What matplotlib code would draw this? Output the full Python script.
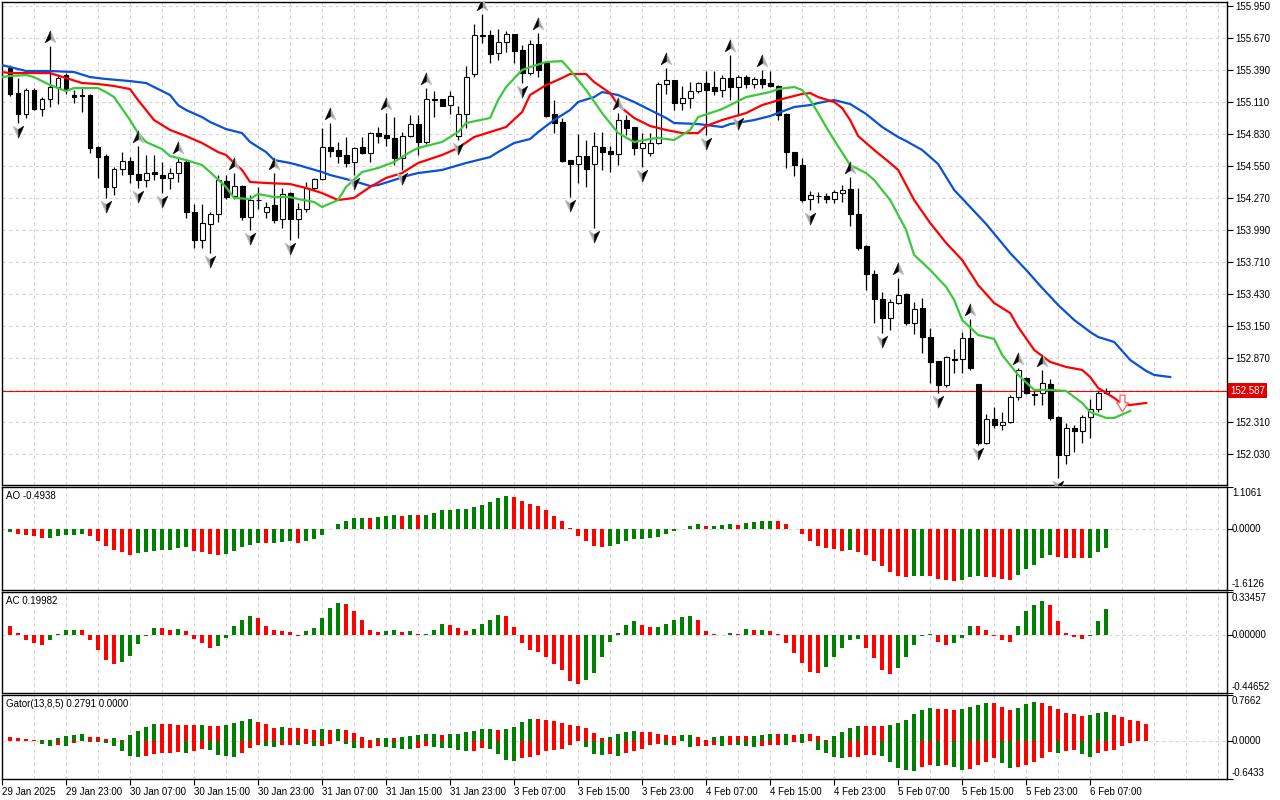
import numpy as np
import matplotlib
matplotlib.use("Agg")
import matplotlib.pyplot as plt
from matplotlib.path import Path
from matplotlib.transforms import offset_copy, blended_transform_factory

plt.rcParams['font.family'] = ['Liberation Sans', 'DejaVu Sans']
plt.rcParams['font.size'] = 7

GREEN = '#008000'
RED = '#ff0000'
GRID = '#d4d4d4'

# ---- H1 candles, 29 Jan 16:00 .. 6 Feb 09:00 ----
opens = [155.410, 155.191, 155.008, 155.218, 155.051, 155.139, 155.244, 155.349, 155.174, 155.174,
         155.174, 154.719, 154.640, 154.369, 154.526, 154.596, 154.483, 154.430, 154.500, 154.474,
         154.448, 154.491, 154.588, 154.150, 153.905, 154.045, 154.133, 154.421, 154.290, 154.378,
         154.106, 154.255, 154.150, 154.211, 154.089, 154.316, 154.089, 154.176, 154.360, 154.439,
         154.719, 154.693, 154.649, 154.588, 154.719, 154.666, 154.841, 154.824, 154.798, 154.623,
         154.815, 154.920, 154.763, 155.139, 155.135, 155.086, 154.815, 155.008, 155.358, 155.699,
         155.699, 155.541, 155.638, 155.708, 155.568, 155.366, 155.620, 155.454, 155.008, 154.938,
         154.605, 154.570, 154.640, 154.570, 154.719, 154.684, 154.658, 154.955, 154.894, 154.710,
         154.666, 154.754, 155.270, 155.305, 155.104, 155.148, 155.209, 155.279, 155.244, 155.218,
         155.323, 155.244, 155.331, 155.270, 155.314, 155.279, 155.253, 155.008, 154.675, 154.561,
         154.264, 154.290, 154.290, 154.264, 154.316, 154.351, 154.133, 153.853, 153.608, 153.389,
         153.223, 153.354, 153.433, 153.179, 153.310, 153.056, 152.846, 152.636, 152.864, 152.864,
         153.048, 152.645, 152.129, 152.339, 152.286, 152.313, 152.531, 152.698, 152.558, 152.566,
         152.645, 152.356, 152.024, 152.260, 152.234, 152.356, 152.426, 152.566]
highs = [155.436, 155.323, 155.235, 155.235, 155.156, 155.603, 155.349, 155.366, 155.218, 155.235,
         155.183, 154.728, 154.658, 154.544, 154.675, 154.631, 154.728, 154.649, 154.649, 154.588,
         154.535, 154.631, 154.605, 154.220, 154.220, 154.150, 154.474, 154.474, 154.490, 154.386,
         154.299, 154.369, 154.238, 154.491, 154.360, 154.325, 154.229, 154.413, 154.448, 154.885,
         154.929, 154.763, 154.806, 154.719, 154.806, 154.850, 154.894, 155.016, 154.981, 154.850,
         154.999, 154.999, 155.235, 155.209, 155.139, 155.209, 155.078, 155.428, 155.795, 155.883,
         155.743, 155.751, 155.734, 155.712, 155.611, 155.655, 155.716, 155.463, 155.130, 154.973,
         154.609, 154.833, 154.780, 154.850, 154.850, 154.728, 155.016, 154.999, 154.898, 154.841,
         154.841, 155.288, 155.410, 155.309, 155.253, 155.288, 155.288, 155.384, 155.384, 155.349,
         155.524, 155.349, 155.349, 155.331, 155.393, 155.384, 155.261, 155.016, 154.679, 154.623,
         154.334, 154.325, 154.316, 154.343, 154.386, 154.456, 154.360, 153.857, 153.643, 153.450,
         153.389, 153.573, 153.441, 153.363, 153.398, 153.135, 152.850, 152.890, 152.951, 153.100,
         153.214, 152.649, 152.383, 152.444, 152.400, 152.549, 152.785, 152.706, 152.584, 152.768,
         152.689, 152.365, 152.304, 152.286, 152.374, 152.514, 152.584, 152.610]
lows = [155.165, 154.929, 154.973, 155.043, 154.990, 155.069, 155.095, 155.183, 155.104, 155.025,
        154.666, 154.448, 154.273, 154.299, 154.474, 154.404, 154.360, 154.370, 154.430, 154.316,
        154.351, 154.413, 154.098, 153.835, 153.835, 153.791, 154.063, 154.264, 154.264, 154.080,
        153.993, 154.176, 154.098, 154.054, 154.010, 153.905, 153.923, 154.150, 154.343, 154.430,
        154.631, 154.579, 154.544, 154.474, 154.660, 154.588, 154.754, 154.728, 154.561, 154.518,
        154.806, 154.649, 154.745, 154.981, 155.078, 155.008, 154.780, 154.885, 155.331, 155.629,
        155.454, 155.480, 155.550, 155.454, 155.279, 155.349, 155.331, 154.981, 154.841, 154.588,
        154.281, 154.404, 154.369, 154.010, 154.518, 154.500, 154.561, 154.824, 154.649, 154.544,
        154.640, 154.745, 155.183, 155.043, 155.043, 155.060, 155.191, 154.824, 155.174, 155.156,
        155.130, 154.999, 155.235, 155.235, 155.235, 155.244, 154.955, 154.535, 154.465, 154.238,
        154.168, 154.229, 154.229, 154.229, 154.238, 154.028, 153.818, 153.468, 153.179, 153.091,
        153.118, 153.349, 153.161, 153.083, 152.916, 152.654, 152.566, 152.619, 152.741, 152.741,
        152.768, 152.111, 152.120, 152.260, 152.243, 152.304, 152.505, 152.560, 152.461, 152.461,
        152.330, 151.823, 151.945, 152.050, 152.129, 152.173, 152.400, 152.561]
closes = [155.183, 155.008, 155.218, 155.051, 155.139, 155.244, 155.323, 155.218, 155.156, 155.169,
          154.710, 154.631, 154.369, 154.526, 154.596, 154.483, 154.430, 154.491, 154.483, 154.448,
          154.491, 154.588, 154.150, 153.905, 154.054, 154.133, 154.430, 154.281, 154.378, 154.106,
          154.255, 154.251, 154.194, 154.080, 154.308, 154.089, 154.176, 154.360, 154.439, 154.719,
          154.684, 154.640, 154.579, 154.714, 154.664, 154.841, 154.815, 154.798, 154.623, 154.815,
          154.920, 154.763, 155.139, 155.134, 155.082, 155.165, 155.008, 155.331, 155.699, 155.694,
          155.533, 155.638, 155.708, 155.559, 155.366, 155.620, 155.393, 154.990, 154.929, 154.596,
          154.570, 154.640, 154.526, 154.728, 154.675, 154.658, 154.955, 154.885, 154.710, 154.754,
          154.754, 155.270, 155.305, 155.104, 155.148, 155.209, 155.279, 155.218, 155.209, 155.323,
          155.244, 155.331, 155.270, 155.314, 155.270, 155.253, 154.999, 154.675, 154.561, 154.255,
          154.299, 154.286, 154.264, 154.325, 154.343, 154.133, 153.835, 153.608, 153.389, 153.223,
          153.363, 153.424, 153.179, 153.301, 153.056, 152.838, 152.636, 152.881, 152.859, 153.048,
          152.785, 152.129, 152.339, 152.286, 152.313, 152.531, 152.768, 152.563, 152.553, 152.654,
          152.348, 152.024, 152.260, 152.234, 152.356, 152.426, 152.566, 152.587]

fractal_up = [5, 16, 21, 28, 33, 40, 47, 52, 59, 66, 76, 82, 90, 94, 105, 111, 120, 126, 129]
fractal_down = [1, 12, 16, 19, 25, 30, 35, 43, 49, 56, 64, 70, 73, 79, 87, 91, 100, 109, 116, 121, 131]

# ---- Alligator (jaw / teeth / lips, already shifted) ----
jaw_idx = [-1, 0, 2, 5, 8, 10, 12, 15, 17, 18, 20, 21, 22, 24, 25, 27, 29, 30, 32, 33,
           35, 36, 39, 40, 43, 45, 46, 48, 50, 51, 54, 57, 60, 61, 63, 65, 66, 68, 70, 71,
           73, 74, 76, 78, 80, 82, 83, 86, 89, 90, 93, 95, 98, 100, 101, 103, 105, 107, 109, 111,
           112, 114, 116, 118, 120, 122, 125, 127, 129, 131, 133, 135, 136, 138, 140, 142, 143, 145]
jaw_val = [155.436, 155.419, 155.384, 155.384, 155.375, 155.331, 155.314, 155.296, 155.279, 155.244,
           155.174, 155.086, 155.043, 154.981, 154.938, 154.876, 154.841, 154.763, 154.675, 154.605,
           154.579, 154.561, 154.500, 154.474, 154.421, 154.378, 154.386, 154.430, 154.474, 154.491,
           154.518, 154.579, 154.631, 154.675, 154.754, 154.789, 154.850, 154.955, 155.043, 155.113,
           155.156, 155.200, 155.174, 155.113, 155.043, 154.973, 154.929, 154.920, 154.894, 154.920,
           154.955, 154.990, 155.069, 155.086, 155.104, 155.130, 155.095, 155.008, 154.894, 154.806,
           154.771, 154.693, 154.570, 154.343, 154.194, 154.045, 153.791, 153.643, 153.485, 153.336,
           153.205, 153.100, 153.056, 153.013, 152.855, 152.759, 152.724, 152.706]
teeth_idx = [-1, 0, 3, 5, 7, 9, 11, 13, 15, 16, 17, 18, 20, 22, 24, 26, 27, 28, 29, 30,
             32, 35, 37, 39, 41, 43, 45, 47, 49, 51, 54, 56, 58, 60, 62, 64, 65, 67, 69, 70,
             72, 73, 75, 76, 78, 80, 82, 84, 86, 87, 89, 92, 94, 97, 99, 100, 101, 103, 104, 105,
             106, 108, 110, 111, 113, 115, 117, 119, 121, 123, 125, 126, 128, 130, 132, 134, 135, 136, 138, 139,
             140, 142]
teeth_val = [155.375, 155.366, 155.366, 155.366, 155.323, 155.279, 155.270, 155.253, 155.226, 155.130,
             155.043, 154.955, 154.868, 154.815, 154.754, 154.675, 154.649, 154.579, 154.518, 154.413,
             154.404, 154.395, 154.360, 154.316, 154.255, 154.273, 154.369, 154.448, 154.491, 154.579,
             154.649, 154.710, 154.806, 154.850, 154.894, 155.025, 155.174, 155.261, 155.323, 155.358,
             155.358, 155.288, 155.191, 155.086, 154.973, 154.903, 154.868, 154.841, 154.841, 154.903,
             154.955, 155.016, 155.086, 155.148, 155.183, 155.191, 155.156, 155.113, 155.060, 154.955,
             154.815, 154.693, 154.579, 154.518, 154.255, 154.054, 153.879, 153.730, 153.511, 153.354,
             153.266, 153.144, 152.943, 152.838, 152.794, 152.768, 152.706, 152.610, 152.523, 152.470,
             152.461, 152.479]
lips_idx = [-1, 0, 2, 3, 5, 7, 8, 11, 12, 13, 15, 16, 17, 19, 20, 22, 24, 25, 27, 28,
            30, 31, 33, 35, 36, 38, 39, 41, 42, 44, 46, 48, 50, 51, 54, 56, 57, 60, 61, 62,
            64, 65, 67, 69, 70, 71, 72, 74, 76, 78, 80, 81, 83, 85, 86, 89, 90, 92, 95, 96,
            98, 99, 100, 101, 102, 103, 105, 107, 108, 110, 112, 113, 115, 117, 118, 119, 121, 123, 124, 126,
            128, 130, 132, 134, 135, 137, 138, 140]
lips_val = [155.331, 155.340, 155.349, 155.331, 155.261, 155.209, 155.235, 155.235, 155.200, 155.156,
            154.955, 154.841, 154.763, 154.701, 154.640, 154.605, 154.561, 154.500, 154.369, 154.273,
            154.264, 154.308, 154.281, 154.281, 154.264, 154.238, 154.194, 154.255, 154.369, 154.500,
            154.535, 154.588, 154.675, 154.710, 154.763, 154.850, 154.929, 154.973, 155.130, 155.244,
            155.393, 155.419, 155.463, 155.471, 155.393, 155.305, 155.218, 155.016, 154.841, 154.763,
            154.789, 154.798, 154.780, 154.868, 154.981, 155.051, 155.086, 155.156, 155.200, 155.226,
            155.244, 155.218, 155.130, 155.016, 154.894, 154.780, 154.561, 154.491, 154.430, 154.255,
            153.993, 153.774, 153.643, 153.494, 153.380, 153.205, 153.074, 153.039, 152.899, 152.724,
            152.593, 152.593, 152.584, 152.479, 152.400, 152.348, 152.348, 152.409]

current_price = 152.587
signal_bar = 139
signal_price = 152.48

# ---- Awesome Oscillator ----
ao = [-0.07, -0.13, -0.16, -0.20, -0.235, -0.228, -0.20, -0.16, -0.155, -0.13,
      -0.20, -0.31, -0.44, -0.55, -0.62, -0.68, -0.64, -0.62, -0.57, -0.55,
      -0.545, -0.51, -0.49, -0.57, -0.60, -0.675, -0.68, -0.65, -0.57, -0.49,
      -0.42, -0.36, -0.365, -0.36, -0.335, -0.33, -0.36, -0.31, -0.26, -0.16,
      0.01, 0.12, 0.21, 0.285, 0.29, 0.285, 0.32, 0.34, 0.37, 0.345,
      0.37, 0.365, 0.375, 0.42, 0.50, 0.505, 0.53, 0.535, 0.58, 0.63,
      0.71, 0.82, 0.87, 0.84, 0.74, 0.66, 0.61, 0.50, 0.34, 0.21,
      0.02, -0.20, -0.33, -0.44, -0.47, -0.44, -0.39, -0.33, -0.265, -0.26,
      -0.24, -0.21, -0.13, -0.05, 0.01, 0.08, 0.13, 0.08, 0.085, 0.11,
      0.13, 0.11, 0.16, 0.18, 0.21, 0.215, 0.21, 0.13, -0.01, -0.13,
      -0.31, -0.44, -0.51, -0.54, -0.57, -0.565, -0.60, -0.70, -0.84, -0.99,
      -1.15, -1.23, -1.26, -1.255, -1.24, -1.245, -1.31, -1.36, -1.365, -1.34,
      -1.26, -1.255, -1.26, -1.265, -1.31, -1.34, -1.21, -1.05, -0.94, -0.78,
      -0.70, -0.73, -0.757, -0.76, -0.78, -0.757, -0.62, -0.4938]

# ---- Accelerator Oscillator ----
ac = [0.069, 0.015, -0.033, -0.057, -0.075, -0.036, 0.008, 0.039, 0.040, 0.038,
      -0.036, -0.113, -0.190, -0.221, -0.206, -0.159, -0.067, -0.008, 0.054, 0.053,
      0.039, 0.046, 0.031, -0.028, -0.059, -0.098, -0.082, -0.021, 0.069, 0.116,
      0.146, 0.131, 0.069, 0.039, 0.031, 0.023, -0.005, 0.031, 0.054, 0.131,
      0.208, 0.247, 0.239, 0.185, 0.116, 0.039, 0.023, 0.031, 0.039, 0.023,
      0.031, 0.008, 0.009, 0.039, 0.085, 0.077, 0.054, 0.031, 0.046, 0.085,
      0.116, 0.154, 0.146, 0.062, -0.062, -0.116, -0.131, -0.170, -0.224, -0.270,
      -0.355, -0.378, -0.347, -0.293, -0.170, -0.054, 0.015, 0.077, 0.108, 0.077,
      0.062, 0.063, 0.085, 0.116, 0.139, 0.146, 0.116, 0.031, 0.008, 0.005,
      0.015, 0.013, 0.046, 0.039, 0.040, 0.031, 0.008, -0.059, -0.136, -0.213,
      -0.285, -0.290, -0.244, -0.167, -0.098, -0.033, -0.028, -0.098, -0.175, -0.267,
      -0.298, -0.252, -0.167, -0.075, -0.003, 0.008, -0.051, -0.075, -0.059, -0.021,
      0.069, 0.068, 0.039, -0.005, -0.036, -0.051, 0.069, 0.185, 0.231, 0.262,
      0.231, 0.108, 0.015, -0.010, -0.028, -0.003, 0.108, 0.19982]

# ---- Gator oscillator (upper = |jaw-teeth|, lower = |teeth-lips|) ----
gator_up = [0.067, 0.050, 0.034, 0.006, 0.008, 0.017, 0.050, 0.084, 0.101, 0.104,
            0.067, 0.064, 0.034, 0.050, 0.011, 0.101, 0.168, 0.235, 0.286, 0.283,
            0.280, 0.269, 0.266, 0.263, 0.266, 0.252, 0.249, 0.269, 0.302, 0.336,
            0.370, 0.319, 0.286, 0.218, 0.221, 0.218, 0.216, 0.202, 0.185, 0.202,
            0.185, 0.202, 0.185, 0.134, 0.067, 0.017, 0.050, 0.053, 0.050, 0.067,
            0.070, 0.101, 0.118, 0.120, 0.101, 0.118, 0.120, 0.151, 0.168, 0.202,
            0.204, 0.185, 0.188, 0.235, 0.319, 0.370, 0.367, 0.353, 0.336, 0.302,
            0.269, 0.252, 0.218, 0.134, 0.050, 0.067, 0.118, 0.151, 0.168, 0.151,
            0.148, 0.118, 0.101, 0.084, 0.087, 0.101, 0.067, 0.017, 0.067, 0.084,
            0.081, 0.078, 0.076, 0.084, 0.101, 0.118, 0.115, 0.118, 0.101, 0.118,
            0.115, 0.084, 0.017, 0.084, 0.151, 0.218, 0.252, 0.246, 0.244, 0.241,
            0.269, 0.302, 0.353, 0.454, 0.521, 0.554, 0.538, 0.535, 0.521, 0.538,
            0.571, 0.605, 0.638, 0.627, 0.571, 0.521, 0.554, 0.622, 0.655, 0.638,
            0.588, 0.538, 0.470, 0.454, 0.420, 0.437, 0.470, 0.473, 0.437, 0.403,
            0.353, 0.336, 0.2791]
gator_down = [0.011, 0.006, 0.003, 0.006, 0.062, 0.095, 0.078, 0.095, 0.045, 0.011,
              0.022, 0.028, 0.045, 0.095, 0.179, 0.263, 0.280, 0.263, 0.230, 0.213,
              0.210, 0.196, 0.213, 0.179, 0.146, 0.162, 0.246, 0.263, 0.280, 0.213,
              0.129, 0.078, 0.095, 0.112, 0.078, 0.076, 0.078, 0.062, 0.095, 0.092,
              0.062, 0.011, 0.062, 0.129, 0.126, 0.123, 0.095, 0.112, 0.129, 0.132,
              0.146, 0.129, 0.095, 0.112, 0.115, 0.129, 0.162, 0.179, 0.176, 0.129,
              0.132, 0.230, 0.330, 0.333, 0.297, 0.280, 0.246, 0.179, 0.162, 0.146,
              0.078, 0.011, 0.112, 0.230, 0.246, 0.230, 0.263, 0.213, 0.179, 0.146,
              0.078, 0.062, 0.078, 0.076, 0.011, 0.112, 0.095, 0.092, 0.078, 0.095,
              0.078, 0.081, 0.095, 0.112, 0.095, 0.078, 0.076, 0.078, 0.028, 0.045,
              0.011, 0.162, 0.213, 0.280, 0.297, 0.280, 0.277, 0.246, 0.244, 0.263,
              0.364, 0.465, 0.498, 0.515, 0.448, 0.414, 0.420, 0.414, 0.448, 0.498,
              0.482, 0.414, 0.364, 0.297, 0.381, 0.465, 0.448, 0.414, 0.364, 0.297,
              0.196, 0.202, 0.179, 0.162, 0.230, 0.280, 0.213, 0.179, 0.162, 0.090,
              0.045, 0.011, 0.0]

# the 152.590 level is covered by the current-price box, so it carries no label
price_ticks = [155.950, 155.670, 155.390, 155.110, 154.830, 154.550, 154.270, 153.990,
               153.710, 153.430, 153.150, 152.870, 152.590, 152.310, 152.030]
price_tick_labels = ['155.950', '155.670', '155.390', '155.110', '154.830', '154.550', '154.270',
                     '153.990', '153.710', '153.430', '153.150', '152.870', '', '152.310', '152.030']
time_idx = [-1, 7, 15, 23, 31, 39, 47, 55, 63, 71, 79, 87, 95, 103, 111, 119, 127, 135]
time_labels = ['29 Jan 2025', '29 Jan 23:00', '30 Jan 07:00', '30 Jan 15:00', '30 Jan 23:00',
               '31 Jan 07:00', '31 Jan 15:00', '31 Jan 23:00', '3 Feb 07:00', '3 Feb 15:00',
               '3 Feb 23:00', '4 Feb 07:00', '4 Feb 15:00', '4 Feb 23:00', '5 Feb 07:00',
               '5 Feb 15:00', '5 Feb 23:00', '6 Feb 07:00']


def trend_colors(vals, first):
    v = np.asarray(vals, dtype=float)
    return [first] + [GREEN if b > a else RED for a, b in zip(v[:-1], v[1:])]


fig = plt.figure(figsize=(12.8, 8), dpi=100)
W, H = 1280.0, 800.0


def box(left, top, right, bottom):
    return [left / W, 1 - bottom / H, (right - left) / W, (bottom - top) / H]


ax = fig.add_axes(box(2, 2, 1227, 485))
ax_ao = fig.add_axes(box(2, 487, 1227, 590), sharex=ax)
ax_ac = fig.add_axes(box(2, 592, 1227, 693), sharex=ax)
ax_gt = fig.add_axes(box(2, 695, 1227, 779), sharex=ax)

for a in (ax, ax_ao, ax_ac, ax_gt):
    for g in range(3, 153, 4):
        a.axvline(g, color=GRID, lw=0.8, ls=(0, (3, 3)), zorder=0)
    for s in a.spines.values():
        s.set_linewidth(1.0)
        s.set_color('black')
    a.tick_params(axis='x', bottom=False, labelbottom=False)

ax.set_xlim(-1, 152.1)

# ---- main price panel ----
x = np.arange(len(opens))
o = np.array(opens)
c = np.array(closes)
h = np.array(highs)
l = np.array(lows)
bull = c > o

ax.axhline(current_price, color=RED, lw=0.8, zorder=2)
ax.vlines(x, l, h, color='black', lw=0.9, zorder=3)
ax.bar(x, np.abs(c - o), bottom=np.minimum(o, c), width=0.62,
       color=np.where(bull, 'white', 'black'), edgecolor='black', linewidth=0.8, zorder=4)

ax.plot(jaw_idx, jaw_val, color='#0a50d8', lw=1.6, zorder=5)
ax.plot(teeth_idx, teeth_val, color='#ff0000', lw=1.6, zorder=5)
ax.plot(lips_idx, lips_val, color='#3cc83c', lw=1.6, zorder=5)

# Bill Williams fractal glyphs: grey arrowhead with a black half
up_full = Path([(0, 1), (0.8, -0.8), (0, -0.3), (-0.8, -0.8), (0, 1)],
               [Path.MOVETO, Path.LINETO, Path.LINETO, Path.LINETO, Path.CLOSEPOLY])
up_half = Path([(0, 1), (0, -0.3), (-0.8, -0.8), (0, 1)],
               [Path.MOVETO, Path.LINETO, Path.LINETO, Path.CLOSEPOLY])
dn_full = Path([(0, -1), (0.8, 0.8), (0, 0.3), (-0.8, 0.8), (0, -1)],
               [Path.MOVETO, Path.LINETO, Path.LINETO, Path.LINETO, Path.CLOSEPOLY])
dn_half = Path([(0, -1), (0, 0.3), (0.8, 0.8), (0, -1)],
               [Path.MOVETO, Path.LINETO, Path.LINETO, Path.CLOSEPOLY])

tr_up = offset_copy(ax.transData, fig=fig, x=0, y=9, units='dots')
tr_dn = offset_copy(ax.transData, fig=fig, x=0, y=-8, units='dots')
for idx, vals, full, half, tr in ((fractal_up, h, up_full, up_half, tr_up),
                                  (fractal_down, l, dn_full, dn_half, tr_dn)):
    ax.plot(idx, vals[idx], ls='none', marker=full, ms=9.5, mfc='#a0a0a0', mec='#c4c4c4',
            mew=0.7, transform=tr, zorder=6)
    ax.plot(idx, vals[idx], ls='none', marker=half, ms=9.5, mfc='black', mec='black',
            mew=0.3, transform=tr, zorder=7)

sig_arrow = Path([(-0.3, 1), (0.3, 1), (0.3, 0.1), (0.7, 0.1), (0, -1), (-0.7, 0.1), (-0.3, 0.1), (-0.3, 1)],
                 [Path.MOVETO] + [Path.LINETO] * 6 + [Path.CLOSEPOLY])
ax.plot([signal_bar], [signal_price], ls='none', marker=sig_arrow, ms=12, mfc='white',
        mec='#ff6a6a', mew=1.0, zorder=8)

ax.set_ylim(151.761, 155.988)
ax.yaxis.tick_right()
ax.set_yticks(price_ticks)
ax.set_yticklabels(price_tick_labels)
ax.tick_params(axis='y', length=4, pad=2, width=0.8)
ax.grid(axis='y', color=GRID, lw=0.8, ls=(0, (3, 3)))
ax.set_axisbelow(True)

ax.annotate('%.3f' % current_price, xy=(1, current_price),
            xycoords=blended_transform_factory(ax.transAxes, ax.transData),
            xytext=(3, 0), textcoords='offset pixels', ha='left', va='center', color='white',
            bbox=dict(boxstyle='square,pad=0.22', fc='#e00000', ec='none'), annotation_clip=False, zorder=10)


# ---- sub-windows ----
def setup_sub(a, lo, hi, labels, title):
    a.set_ylim(lo, hi)
    a.axhline(0, color=GRID, lw=0.8, ls=(0, (3, 3)), zorder=1)
    a.yaxis.tick_right()
    a.set_yticks([lo, 0, hi])
    a.tick_params(axis='y', length=4, width=0.8, labelright=False)
    tr = blended_transform_factory(a.transAxes, a.transData)
    a.annotate(labels[2], xy=(1, hi), xycoords=tr, xytext=(5, -1), textcoords='offset pixels',
               ha='left', va='top', annotation_clip=False)
    a.annotate(labels[1], xy=(1, 0), xycoords=tr, xytext=(5, 0), textcoords='offset pixels',
               ha='left', va='center', annotation_clip=False)
    a.annotate(labels[0], xy=(1, lo), xycoords=tr, xytext=(5, 1), textcoords='offset pixels',
               ha='left', va='bottom', annotation_clip=False)
    a.annotate(title, xy=(0, 1), xycoords='axes fraction', xytext=(4, -4),
               textcoords='offset pixels', ha='left', va='top')


ax_ao.bar(np.arange(len(ao)), ao, width=0.5, color=trend_colors(ao, GREEN), zorder=2)
setup_sub(ax_ao, -1.6126, 1.1061, ['-1.6126', '0.0000', '1.1061'], 'AO -0.4938')

ax_ac.bar(np.arange(len(ac)), ac, width=0.5, color=trend_colors(ac, RED), zorder=2)
setup_sub(ax_ac, -0.44652, 0.33457, ['-0.44652', '0.00000', '0.33457'], 'AC 0.19982')

gd = np.array(gator_down)
ax_gt.bar(np.arange(len(gator_up)), gator_up, width=0.5, color=trend_colors(gator_up, RED), zorder=2)
ax_gt.bar(np.arange(len(gd)), -gd, width=0.5, color=trend_colors(gd, RED), zorder=2)
setup_sub(ax_gt, -0.6433, 0.7662, ['-0.6433', '0.0000', '0.7662'], 'Gator(13,8,5) 0.2791 0.0000')

ax_gt.set_xticks(time_idx)
ax_gt.set_xticklabels(time_labels)
ax_gt.tick_params(axis='x', bottom=True, labelbottom=True, length=4, width=0.8, pad=1.5)
for t in ax_gt.get_xticklabels():
    t.set_ha('left')

fig.savefig('out.png', dpi=100, facecolor='white')
